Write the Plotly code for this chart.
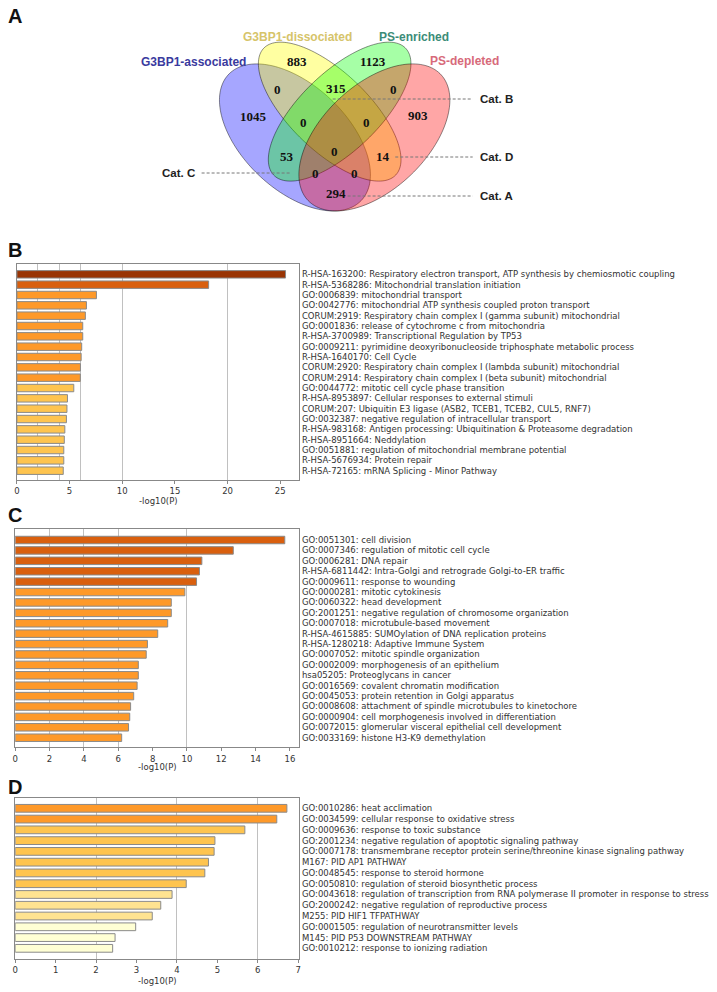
import numpy as np
import plotly.graph_objects as go

W, H = 717, 992

# ---------------- DATA ----------------
venn_sets = ["G3BP1-associated", "G3BP1-dissociated", "PS-enriched", "PS-depleted"]
venn_regions = ["Y", "G", "BY", "YG", "GR", "B", "R", "BYG", "YGR", "BYGR", "BG", "YR", "BGR", "BYR", "BR"]
venn_counts = [883, 1123, 0, 315, 0, 1045, 903, 0, 0, 0, 53, 14, 0, 0, 294]
cat_labels = ["Cat. B", "Cat. D", "Cat. A", "Cat. C"]

b_terms = [
    "R-HSA-163200: Respiratory electron transport, ATP synthesis by chemiosmotic coupling",
    "R-HSA-5368286: Mitochondrial translation initiation",
    "GO:0006839: mitochondrial transport",
    "GO:0042776: mitochondrial ATP synthesis coupled proton transport",
    "CORUM:2919: Respiratory chain complex I (gamma subunit) mitochondrial",
    "GO:0001836: release of cytochrome c from mitochondria",
    "R-HSA-3700989: Transcriptional Regulation by TP53",
    "GO:0009211: pyrimidine deoxyribonucleoside triphosphate metabolic process",
    "R-HSA-1640170: Cell Cycle",
    "CORUM:2920: Respiratory chain complex I (lambda subunit) mitochondrial",
    "CORUM:2914: Respiratory chain complex I (beta subunit) mitochondrial",
    "GO:0044772: mitotic cell cycle phase transition",
    "R-HSA-8953897: Cellular responses to external stimuli",
    "CORUM:207: Ubiquitin E3 ligase (ASB2, TCEB1, TCEB2, CUL5, RNF7)",
    "GO:0032387: negative regulation of intracellular transport",
    "R-HSA-983168: Antigen processing: Ubiquitination & Proteasome degradation",
    "R-HSA-8951664: Neddylation",
    "GO:0051881: regulation of mitochondrial membrane potential",
    "R-HSA-5676934: Protein repair",
    "R-HSA-72165: mRNA Splicing - Minor Pathway",
]
b_values = [25.5, 18.2, 7.55, 6.6, 6.5, 6.25, 6.25, 6.15, 6.1, 6.03, 6.02,
            5.4, 4.8, 4.75, 4.7, 4.55, 4.5, 4.45, 4.45, 4.4]

c_terms = [
    "GO:0051301: cell division",
    "GO:0007346: regulation of mitotic cell cycle",
    "GO:0006281: DNA repair",
    "R-HSA-6811442: Intra-Golgi and retrograde Golgi-to-ER traffic",
    "GO:0009611: response to wounding",
    "GO:0000281: mitotic cytokinesis",
    "GO:0060322: head development",
    "GO:2001251: negative regulation of chromosome organization",
    "GO:0007018: microtubule-based movement",
    "R-HSA-4615885: SUMOylation of DNA replication proteins",
    "R-HSA-1280218: Adaptive Immune System",
    "GO:0007052: mitotic spindle organization",
    "GO:0002009: morphogenesis of an epithelium",
    "hsa05205: Proteoglycans in cancer",
    "GO:0016569: covalent chromatin modification",
    "GO:0045053: protein retention in Golgi apparatus",
    "GO:0008608: attachment of spindle microtubules to kinetochore",
    "GO:0000904: cell morphogenesis involved in differentiation",
    "GO:0072015: glomerular visceral epithelial cell development",
    "GO:0033169: histone H3-K9 demethylation",
]
c_values = [15.7, 12.7, 10.87, 10.73, 10.56, 9.88, 9.09, 9.09, 8.88, 8.3,
            7.7, 7.63, 7.17, 7.17, 7.1, 6.9, 6.72, 6.67, 6.6, 6.2]

d_terms = [
    "GO:0010286: heat acclimation",
    "GO:0034599: cellular response to oxidative stress",
    "GO:0009636: response to toxic substance",
    "GO:2001234: negative regulation of apoptotic signaling pathway",
    "GO:0007178: transmembrane receptor protein serine/threonine kinase signaling pathway",
    "M167: PID AP1 PATHWAY",
    "GO:0048545: response to steroid hormone",
    "GO:0050810: regulation of steroid biosynthetic process",
    "GO:0043618: regulation of transcription from RNA polymerase II promoter in response to stress",
    "GO:2000242: negative regulation of reproductive process",
    "M255: PID HIF1 TFPATHWAY",
    "GO:0001505: regulation of neurotransmitter levels",
    "M145: PID P53 DOWNSTREAM PATHWAY",
    "GO:0010212: response to ionizing radiation",
]
d_values = [6.72, 6.47, 5.68, 4.94, 4.92, 4.78, 4.69, 4.23, 3.88, 3.6, 3.39, 2.98, 2.47, 2.41]

# ---------------- STYLE / GEOMETRY ----------------
def bar_color(v):
    if v >= 20: return "#993404"
    if v >= 10: return "#d95f0e"
    if v >= 6: return "#fe9929"
    if v >= 4: return "#fec44f"
    if v >= 3: return "#fee391"
    return "#ffffd4"

def px(x):
    return x / W

def py(y):
    return 1 - y / H

FONT = "DejaVu Sans"
fig = go.Figure()

# Venn ellipses (unit coordinates, mapped to pixels)
def ellipse_path(cx, cy, a, b, ang, dx=0.0):
    t = np.linspace(0, 2 * np.pi, 160)
    th = np.radians(ang)
    x = cx + a * np.cos(t) * np.cos(th) - b * np.sin(t) * np.sin(th)
    y = cy + a * np.cos(t) * np.sin(th) + b * np.sin(t) * np.cos(th)
    X = 334 + (x - 0.5) * 266.7 + dx
    Y = 258.7 - 258 * y
    pts = [f"{px(xx):.5f},{py(yy):.5f}" for xx, yy in zip(X, Y)]
    return "M " + " L ".join(pts) + " Z"

ellipses = [
    (0.35, 0.47, 0.35, 0.20, 135, 0, "rgba(0,0,255,0.35)"),
    (0.50, 0.57, 0.35, 0.15, 135, -5, "rgba(255,255,0,0.37)"),
    (0.50, 0.57, 0.35, 0.15, 45, 5, "rgba(0,255,0,0.35)"),
    (0.65, 0.47, 0.35, 0.20, 45, 0, "rgba(255,0,0,0.35)"),
]
for cx, cy, a, b, ang, dx, col in ellipses:
    fig.add_shape(type="path", path=ellipse_path(cx, cy, a, b, ang, dx),
                  xref="paper", yref="paper", fillcolor=col,
                  line=dict(color="rgba(0,0,0,0.55)", width=0.8), layer="above")

region_pos = {
    "Y": (296, 61), "G": (373, 61), "BY": (276, 90), "YG": (335, 88), "GR": (393, 89),
    "B": (252, 116), "R": (418, 115), "BYG": (303, 122), "YGR": (366, 122),
    "BYGR": (334, 151), "BG": (286, 157), "YR": (383, 157), "BGR": (315, 173),
    "BYR": (354, 173), "BR": (335, 193),
}
for reg, cnt in zip(venn_regions, venn_counts):
    x0, y0 = region_pos[reg]
    fig.add_annotation(x=px(x0), y=py(y0), xref="paper", yref="paper", text=f"<b>{cnt}</b>",
                       showarrow=False, font=dict(family="Liberation Serif", size=13, color="#111"),
                       xanchor="center", yanchor="middle")

set_pos = [(192, 62), (297, 37), (414, 37), (464.5, 61)]
set_col = ["#3a3a9e", "#d6c46a", "#3c8c78", "#d76a7a"]
for name, (x0, y0), col in zip(venn_sets, set_pos, set_col):
    fig.add_annotation(x=px(x0), y=py(y0), xref="paper", yref="paper", text=f"<b>{name}</b>",
                       showarrow=False, font=dict(family="Liberation Sans", size=12, color=col),
                       xanchor="center", yanchor="middle")

cat_geom = [  # (text x, anchor, y, line x0, line x1)
    (478, "left", 99, 332, 473),
    (478, "left", 157, 395, 473),
    (478, "left", 196, 347, 473),
    (195, "right", 173, 200, 290),
]
for lab, (tx, anc, ty, lx0, lx1) in zip(cat_labels, cat_geom):
    fig.add_shape(type="line", x0=px(lx0), x1=px(lx1), y0=py(ty), y1=py(ty),
                  xref="paper", yref="paper", line=dict(color="#777", width=1, dash="3px,2px"),
                  layer="above")
    fig.add_annotation(x=px(tx), y=py(ty), xref="paper", yref="paper", text=f"<b>{lab}</b>",
                       showarrow=False, font=dict(family="Liberation Sans", size=11.5, color="#222"),
                       xanchor=anc, yanchor="middle")

# Panel letters
for lab, y0 in zip(["A", "B", "C", "D"], [16, 250, 515, 787]):
    fig.add_annotation(x=px(12), y=py(y0), xref="paper", yref="paper", text=f"<b>{lab}</b>",
                       showarrow=False, font=dict(family="Liberation Sans", size=20, color="#111"),
                       xanchor="center", yanchor="middle")

# Bar panels
panels = [
    dict(terms=b_terms, vals=b_values, ax="", xd=(14, 298.3), yd=(264, 480), xr=26.8,
         yr=(19.9, -1.0), dtick=5, grid=[2, 4, 6, 10, 20], title_y=500.7),
    dict(terms=c_terms, vals=c_values, ax="2", xd=(12.3, 298.3), yd=(529.3, 747.3), xr=16.54,
         yr=(19.92, -1.03), dtick=2, grid=[2, 4, 6, 10], title_y=766.7),
    dict(terms=d_terms, vals=d_values, ax="3", xd=(12.3, 298.3), yd=(798.3, 959), xr=7.025,
         yr=(13.99, -0.93), dtick=1, grid=[2, 4, 6], title_y=980.7),
]
layout_axes = {}
for p in panels:
    ax = p["ax"]
    fig.add_trace(go.Bar(
        x=p["vals"], y=p["terms"], orientation="h", width=0.72,
        marker=dict(color=[bar_color(v) for v in p["vals"]], line=dict(color="#8a8a8a", width=1)),
        xaxis="x" + ax, yaxis="y" + ax, showlegend=False, hoverinfo="x+y",
    ))
    layout_axes["xaxis" + ax] = dict(
        domain=[px(p["xd"][0]), px(p["xd"][1])], range=[0, p["xr"]], anchor="y" + ax,
        showline=True, mirror=True, linecolor="#888", linewidth=1,
        ticks="outside", ticklen=3, tickcolor="#888", dtick=p["dtick"], tick0=0,
        tickfont=dict(family=FONT, size=8.5, color="#333"),
        showgrid=False, zeroline=False, fixedrange=True,
        minor=dict(tickmode="array", tickvals=p["grid"], showgrid=True, gridcolor="#c0c0c0",
                   gridwidth=1, ticks=""),
    )
    layout_axes["yaxis" + ax] = dict(
        domain=[py(p["yd"][1]), py(p["yd"][0])], range=list(p["yr"]), anchor="x" + ax,
        type="category", categoryorder="array", categoryarray=p["terms"], side="right",
        showline=True, mirror=True, linecolor="#888", linewidth=1, ticks="",
        tickfont=dict(family=FONT, size=8.5, color="#333"), showgrid=False, zeroline=False,
        fixedrange=True,
    )
    fig.add_annotation(x=px((p["xd"][0] + p["xd"][1]) / 2), y=py(p["title_y"]), xref="paper",
                       yref="paper", text="-log10(P)", showarrow=False,
                       font=dict(family=FONT, size=8.5, color="#333"),
                       xanchor="center", yanchor="middle")

fig.update_layout(
    width=W, height=H, margin=dict(l=0, r=0, t=0, b=0), autosize=False,
    paper_bgcolor="white", plot_bgcolor="white", bargap=0.28,
    **layout_axes,
)

fig.write_html("out.html", config={"displayModeBar": False},
               post_script="document.body.style.margin='0';")
